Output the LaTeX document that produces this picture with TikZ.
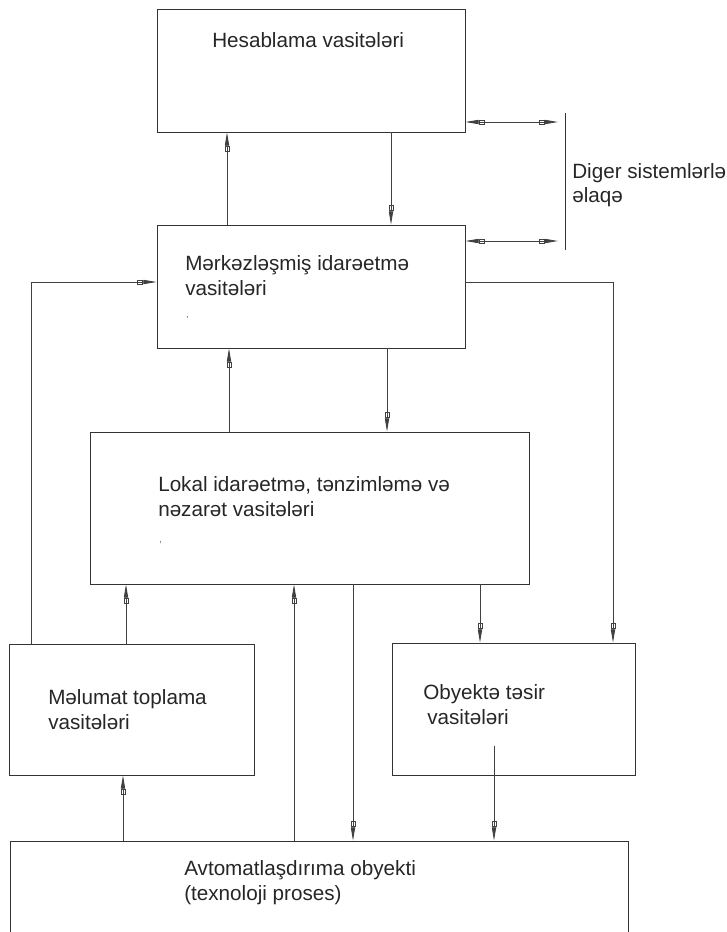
\documentclass[tikz,border=0pt]{standalone}
\usepackage{fontspec}
\setmainfont{Liberation Sans}
\usetikzlibrary{arrows.meta, fit}

\tikzset{
  blok/.style={draw=black!80, line width=0.6pt, inner sep=0pt},
  yazi/.style={text=black!85, align=left, anchor=west, inner sep=0pt, font=\fontsize{15.5}{18.5}\selectfont},
  uc/.tip={Rectangle[open, length=4.5pt, width=3.6pt] Triangle[length=10pt, width=3.2pt]},
  ox/.style={draw=black!75, line width=0.6pt, -{uc}},
  ikiox/.style={draw=black!75, line width=0.6pt, {Triangle[length=10pt, width=3.2pt] Rectangle[open, length=4.5pt, width=3.6pt]}-{uc}},
}

\begin{document}
\begin{tikzpicture}[x=0.75pt, y=-0.75pt]
    \clip (0,0) rectangle (726,932);

    % bloklar
    \node[blok, fit={(157,9) (465,132)}] (hes) {};
    \node[blok, fit={(157,225) (465,348)}] (mer) {};
    \node[blok, fit={(90,432) (529,584)}] (lok) {};
    \node[blok, fit={(9,644) (254,775)}] (mel) {};
    \node[blok, fit={(392,643) (635,775)}] (oby) {};
    \node[blok, fit={(10,841) (628,960)}] (avt) {};

    % yazilar
    \node[yazi] (hesT) at (212,40) {Hesablama vasitələri};
    \node[yazi] (merT) at (185,275.5) {Mərkəzləşmiş idarəetmə\\vasitələri};
    \node[yazi, font=\scriptsize, text=black!60] (merV) at (186,318) {,};
    \node[yazi] (digT) at (572,185) {Diger sistemlərlə\\əlaqə};
    \node[yazi] (lokT) at (158,496.5) {Lokal idarəetmə, tənzimləmə və\\nəzarət vasitələri};
    \node[yazi, font=\scriptsize, text=black!60] (lokV) at (159,543) {,};
    \node[yazi] (melT) at (48,709.5) {Məlumat toplama\\vasitələri};
    \node[yazi] (obyT) at (423,704.5) {Obyektə təsir\\\hspace*{3pt}vasitələri};
    \node[yazi] (avtT) at (184,882.5) {Avtomatlaşdırıma obyekti\\(texnoloji proses)};

    % diger sistemlerle elaqe
    \coordinate (d1) at (558,122);
    \coordinate (d2) at (558,241);
    \coordinate (barT) at (565,113);
    \coordinate (barB) at (565,250);
    \draw[ikiox] (hes.east |- d1) -- (d1);
    \draw[ikiox] (mer.east |- d2) -- (d2);
    \draw[blok] (barT) -- (barB);

    % baglantilar
    \draw[ox] (mer.north -| 227,0) -- (hes.south -| 227,0);
    \draw[ox] (hes.south -| 391,0) -- (mer.north -| 391,0);
    \draw[ox] (lok.north -| 229,0) -- (mer.south -| 229,0);
    \draw[ox] (mer.south -| 387,0) -- (lok.north -| 387,0);
    \draw[ox] (mel.north -| 126,0) -- (lok.south -| 126,0);
    \draw[ox] (avt.north -| 294,0) -- (lok.south -| 294,0);
    \draw[ox] (lok.south -| 353,0) -- (avt.north -| 353,0);
    \draw[ox] (lok.south -| 480,0) -- (oby.north -| 480,0);
    \draw[ox] (avt.north -| 123,0) -- (mel.south -| 123,0);
    \coordinate (obyC) at (494,746);
    \draw[ox] (obyC) -- (avt.north -| obyC);

    % geri baglantilar
    \draw[ox] (mel.north -| 31,0) |- (mer.west |- 0,282);
    \draw[ox] (mer.east |- 0,282) -| (oby.north -| 613,0);
\end{tikzpicture}
\end{document}
